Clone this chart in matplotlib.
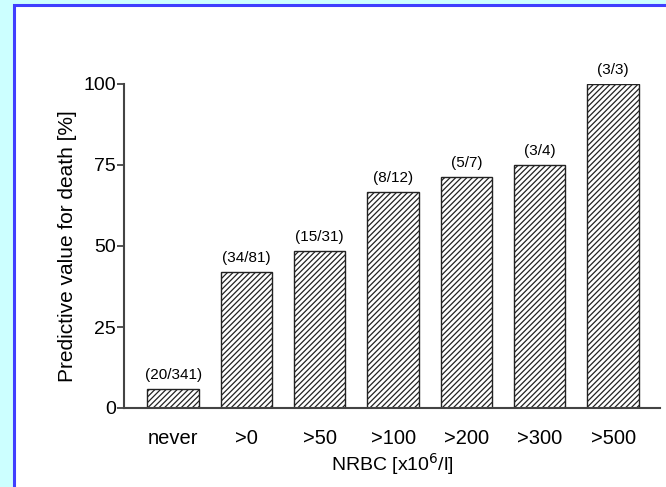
import matplotlib
matplotlib.use("Agg")
import matplotlib.pyplot as plt
from matplotlib.patches import Rectangle

categories = ["never", ">0", ">50", ">100", ">200", ">300", ">500"]
values = [5.9, 42.0, 48.4, 66.7, 71.4, 75.0, 100.0]
counts = ["(20/341)", "(34/81)", "(15/31)", "(8/12)", "(5/7)", "(3/4)", "(3/3)"]
yticks = [0, 25, 50, 75, 100]

plt.rcParams['font.family'] = ['Liberation Sans', 'DejaVu Sans']
plt.rcParams['hatch.linewidth'] = 0.9
plt.rcParams['hatch.color'] = '#333333'

W, H = 666, 487
fig = plt.figure(figsize=(W/100, H/100), dpi=100)
fig.patch.set_facecolor('#ccffff')
fig.patches.append(Rectangle((14/W, -0.05), 1, 1.05 - 5/H, transform=fig.transFigure,
                             facecolor='white', edgecolor='#3f3fff', linewidth=2.2,
                             zorder=-10))

ax = fig.add_axes([124/W, 1 - 408/H, (660 - 124)/W, (408 - 84)/H])
ax.set_facecolor('none')
ax.set_zorder(5)
x = list(range(len(categories)))
bars = ax.bar(x, values, width=0.7, color='white', edgecolor='#222222',
              linewidth=1.0, hatch='//////')
for xi, v, c in zip(x, values, counts):
    ax.text(xi, v + 2.2, c, ha='center', va='bottom', fontsize=11, clip_on=False)

ax.set_xlim(-0.67, 6.64)
ax.set_ylim(0, 100)
ax.set_yticks(yticks)
ax.set_xticks(x)
ax.set_xticklabels(categories)
for s in ['top', 'right']:
    ax.spines[s].set_visible(False)
for s in ['left', 'bottom']:
    ax.spines[s].set_color('#444444')
    ax.spines[s].set_linewidth(1.5)
ax.tick_params(axis='y', length=5, width=1.3, color='#444444', labelsize=14, pad=1)
ax.tick_params(axis='x', length=0, labelsize=14.5, pad=15)
ax.set_ylabel("Predictive value for death [%]", fontsize=15, labelpad=4)
ax.set_xlabel(r"NRBC [x10$^{6}$/l]", fontsize=14, labelpad=2)

fig.savefig("out.png", dpi=100, facecolor=fig.get_facecolor())
